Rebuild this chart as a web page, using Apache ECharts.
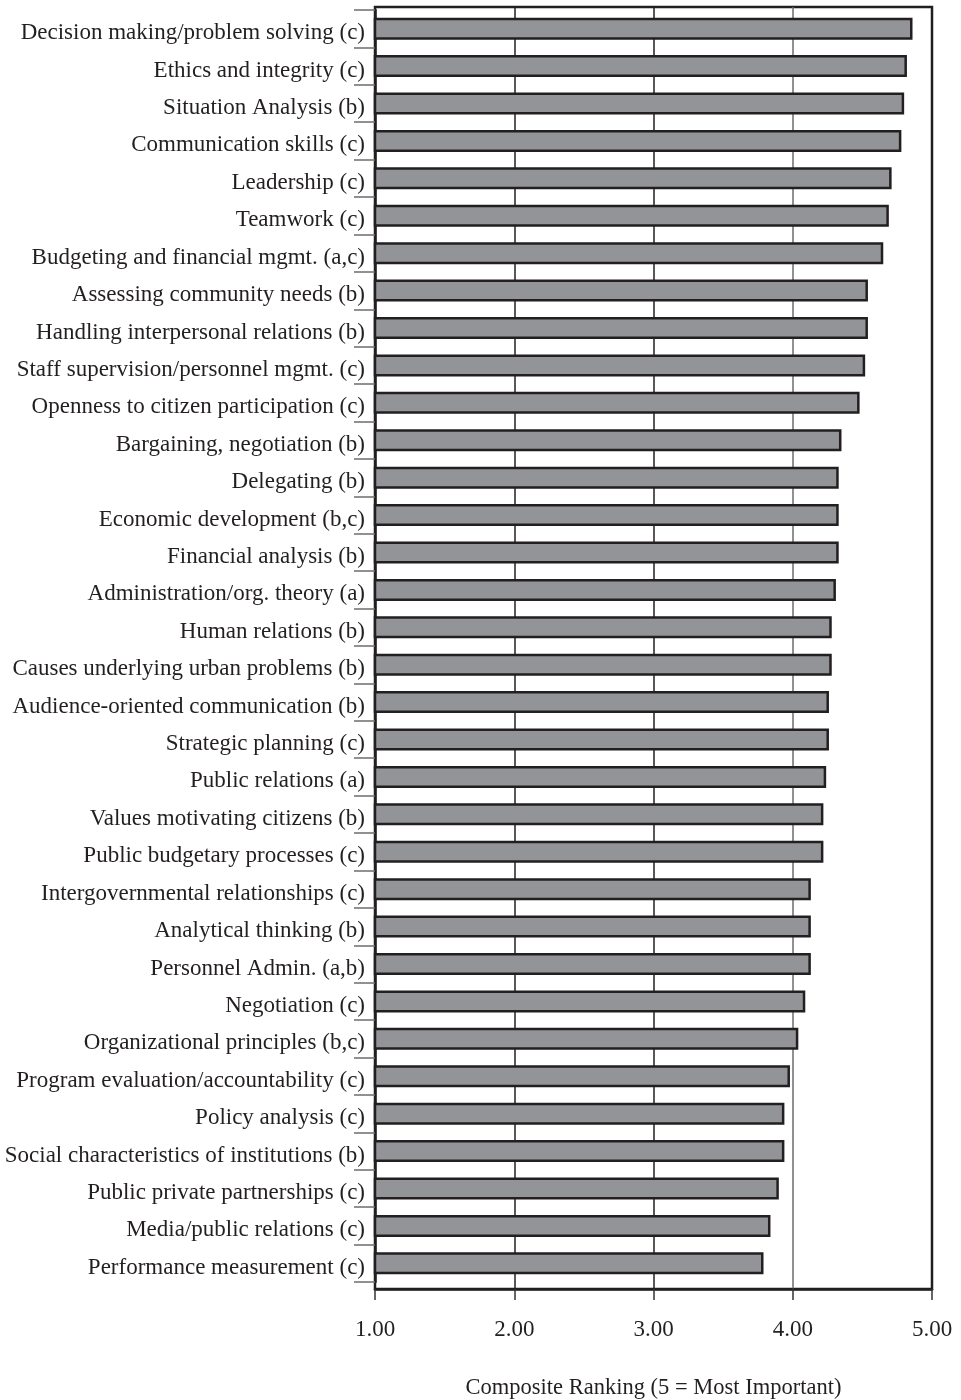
<!DOCTYPE html>
<html>
<head>
<meta charset="utf-8">
<script src="https://cdn.jsdelivr.net/npm/echarts@6/dist/echarts.min.js"></script>
<style>
html,body{margin:0;padding:0;background:#fff;}
#chart{width:961px;height:1400px;}
</style>
</head>
<body>
<div id="chart"></div>
<script>
const categories = [
  "Decision making/problem solving (c)",
  "Ethics and integrity (c)",
  "Situation Analysis (b)",
  "Communication skills (c)",
  "Leadership (c)",
  "Teamwork (c)",
  "Budgeting and financial mgmt. (a,c)",
  "Assessing community needs (b)",
  "Handling interpersonal relations (b)",
  "Staff supervision/personnel mgmt. (c)",
  "Openness to citizen participation (c)",
  "Bargaining, negotiation (b)",
  "Delegating (b)",
  "Economic development (b,c)",
  "Financial analysis (b)",
  "Administration/org. theory (a)",
  "Human relations (b)",
  "Causes underlying urban problems (b)",
  "Audience-oriented communication (b)",
  "Strategic planning (c)",
  "Public relations (a)",
  "Values motivating citizens (b)",
  "Public budgetary processes (c)",
  "Intergovernmental relationships (c)",
  "Analytical thinking (b)",
  "Personnel Admin. (a,b)",
  "Negotiation (c)",
  "Organizational principles (b,c)",
  "Program evaluation/accountability (c)",
  "Policy analysis (c)",
  "Social characteristics of institutions (b)",
  "Public private partnerships (c)",
  "Media/public relations (c)",
  "Performance measurement (c)"
];
const scores = [
  4.86, 4.82, 4.80, 4.78, 4.71, 4.69, 4.65, 4.54, 4.54, 4.52,
  4.48, 4.35, 4.33, 4.33, 4.33, 4.31, 4.28, 4.28, 4.26, 4.26,
  4.24, 4.22, 4.22, 4.13, 4.13, 4.13, 4.09, 4.04, 3.98, 3.94,
  3.94, 3.90, 3.84, 3.79
];
const xTicks = [1, 2, 3, 4, 5];
const axisTitle = "Composite Ranking (5 = Most Important)";

const FONT = "'Liberation Serif', 'DejaVu Serif', serif";
const INK = '#231f20';

const chart = echarts.init(document.getElementById('chart'), null, {renderer: 'canvas'});
chart.setOption({
  animation: false,
  backgroundColor: '#fff',
  grid: [
    {left: 375, width: 557, top: 7, height: 1282, show: true, borderColor: INK, borderWidth: 2.5, backgroundColor: 'transparent', containLabel: false, outerBoundsMode: 'none'},
    {left: 375, width: 557, top: 10, height: 1272, containLabel: false, outerBoundsMode: 'none'}
  ],
  xAxis: [
    {
      gridIndex: 0, type: 'value', min: xTicks[0], max: xTicks[xTicks.length - 1], interval: 1,
      axisLine: {show: true, lineStyle: {color: INK, width: 2.5}},
      axisTick: {show: true, inside: false, length: 11, lineStyle: {color: '#333', width: 1.5}},
      axisLabel: {margin: 29, color: INK, fontFamily: FONT, fontSize: 23, formatter: v => v.toFixed(2)},
      splitLine: {show: true, lineStyle: {color: [INK, INK, INK, '#6d6d6d', INK], width: 1.5}},
      name: axisTitle, nameLocation: 'middle', nameGap: 88,
      nameTextStyle: {color: INK, fontFamily: FONT, fontSize: 22.5}
    },
    {
      gridIndex: 1, type: 'value', min: xTicks[0], max: xTicks[xTicks.length - 1], show: false
    }
  ],
  yAxis: [
    {gridIndex: 0, type: 'value', show: false, min: 0, max: 1},
    {
      gridIndex: 1, type: 'category', inverse: true, data: categories,
      axisLine: {show: true, lineStyle: {color: INK, width: 2.5}},
      axisTick: {show: true, inside: false, length: 21, alignWithLabel: false, lineStyle: {color: '#6d6d6d', width: 1.5}},
      axisLabel: {
        margin: 10, interval: 0,
        formatter: v => '{a|' + v + '}',
        rich: {a: {color: INK, fontFamily: FONT, fontSize: 23, lineHeight: 23, padding: [9, 0, 0, 0]}}
      },
      splitLine: {show: false}
    }
  ],
  series: [{
    type: 'bar',
    xAxisIndex: 1, yAxisIndex: 1,
    data: scores,
    barWidth: 22,
    itemStyle: {color: '#939498', borderColor: INK, borderWidth: 2.5},
    z: 3
  }]
});
</script>
</body>
</html>
